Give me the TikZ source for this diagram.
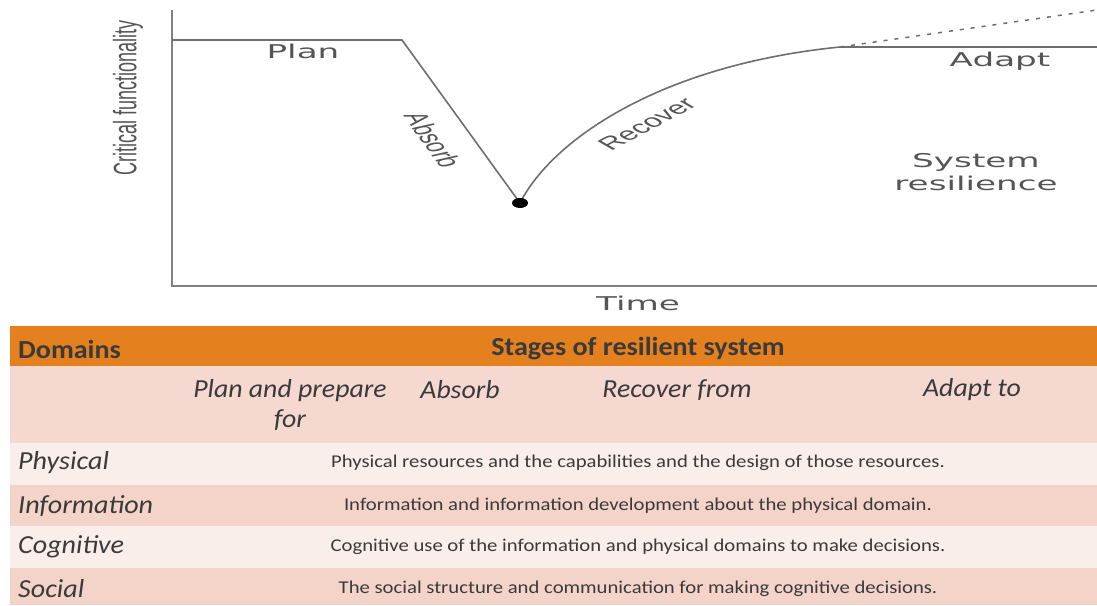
\documentclass[tikz,border=0pt]{standalone}
\usepackage{fontspec}
\setmainfont{Carlito}
\newfontfamily\chartfont{DejaVu Sans}
\newfontfamily\axisfont{Liberation Sans}
\usetikzlibrary{positioning}

\definecolor{hdrorange}{HTML}{E5801F}
\definecolor{stagepink}{HTML}{F5D8CF}
\definecolor{rowlight}{HTML}{FAEEEA}
\definecolor{rowpink}{HTML}{F4D4C9}
\definecolor{linegray}{HTML}{6E6E6E}
\definecolor{txtgray}{HTML}{555555}
\definecolor{tbltext}{HTML}{3A3A3A}

\begin{document}
\begin{tikzpicture}[x=1pt, y=-1pt,
        curve/.style={linegray, line width=1.6pt},
        axis/.style={gray, line width=2.2pt},
        chartlbl/.style={txtgray, font=\chartfont\fontsize{19}{23}\selectfont, xscale=1.8, inner sep=0pt, align=center},
        slantlbl/.style={txtgray, font=\axisfont\fontsize{18}{22}\selectfont, xscale=1.8, inner sep=0pt},
        hdr/.style={tbltext, font=\bfseries\fontsize{26}{30}\selectfont, xscale=1.08, inner sep=0pt},
        stage/.style={tbltext, font=\itshape\fontsize{26}{30}\selectfont, xscale=1.07, inner sep=0pt, align=center},
        domlbl/.style={tbltext, font=\itshape\fontsize{26}{30}\selectfont, xscale=1.08, inner sep=0pt, anchor=west},
        desc/.style={tbltext, font=\fontsize{18}{21}\selectfont, xscale=1.15, inner sep=0pt}]
    \useasboundingbox (0,0) rectangle (1097,605);

    % chart
    \coordinate (ytop) at (172,10);
    \coordinate (org) at (172,286);
    \coordinate (xend) at (1097,286);
    \coordinate (start) at (172,40);
    \coordinate (brk) at (402,40);
    \coordinate (low) at (520,203);
    \coordinate (recend) at (840,47);
    \coordinate (rend) at (1097,47);
    \coordinate (dotend) at (1097,10);
    \draw[axis] (ytop) -- (org) -- (xend);
    \draw[curve] (start) -- (brk) -- (low);
    \draw[curve] (low) .. controls (552,140) and (660,65) .. (recend) -- (rend);
    \draw[linegray, line width=1.5pt, dash pattern=on 4pt off 7pt] (recend) -- (dotend);
    \fill (low) ellipse (8 and 5);

    \node[slantlbl, rotate=90] (critf) at (128,98) {Critical functionality};
    \node[chartlbl] (plan) at (303,51) {Plan};
    \node[slantlbl, rotate=-68] (absorb) at (433,140) {Absorb};
    \node[slantlbl, rotate=44] (recover) at (647,124) {Recover};
    \node[chartlbl] (adapt) at (1000,61) {Adapt};
    \node[chartlbl] (sysres) at (976,172) {System\\resilience};
    \node[chartlbl] (time) at (638,303) {Time};

    % table
    \fill[hdrorange] (10,326) rectangle (1097,366);
    \fill[stagepink] (10,366) rectangle (1097,443);
    \fill[rowlight] (10,443) rectangle (1097,485);
    \fill[rowpink] (10,485) rectangle (1097,526);
    \fill[rowlight] (10,526) rectangle (1097,568);
    \fill[rowpink] (10,568) rectangle (1097,605);

    \node[hdr, anchor=west] (domhdr) at (18,349) {Domains};
    \node[hdr] (stagehdr) at (638,349) {Stages of resilient system};
    \node[stage] (planst) at (290,405) {Plan and prepare\\for};
    \node[stage] (absorbst) at (460,390) {Absorb};
    \node[stage] (recst) at (677,390) {Recover from};
    \node[stage] (adaptst) at (972,390) {Adapt to};

    \node[domlbl] (phys) at (18,463) {Physical};
    \node[domlbl] (info) at (18,506) {Information};
    \node[domlbl] (cogn) at (18,547) {Cognitive};
    \node[domlbl] (soc) at (18,589) {Social};

    \node[desc] (physd) at (638,463) {Physical resources and the capabilities and the design of those resources.};
    \node[desc] (infod) at (638,506) {Information and information development about the physical domain.};
    \node[desc] (cognd) at (638,547) {Cognitive use of the information and physical domains to make decisions.};
    \node[desc] (socd) at (638,589) {The social structure and communication for making cognitive decisions.};
\end{tikzpicture}
\end{document}
